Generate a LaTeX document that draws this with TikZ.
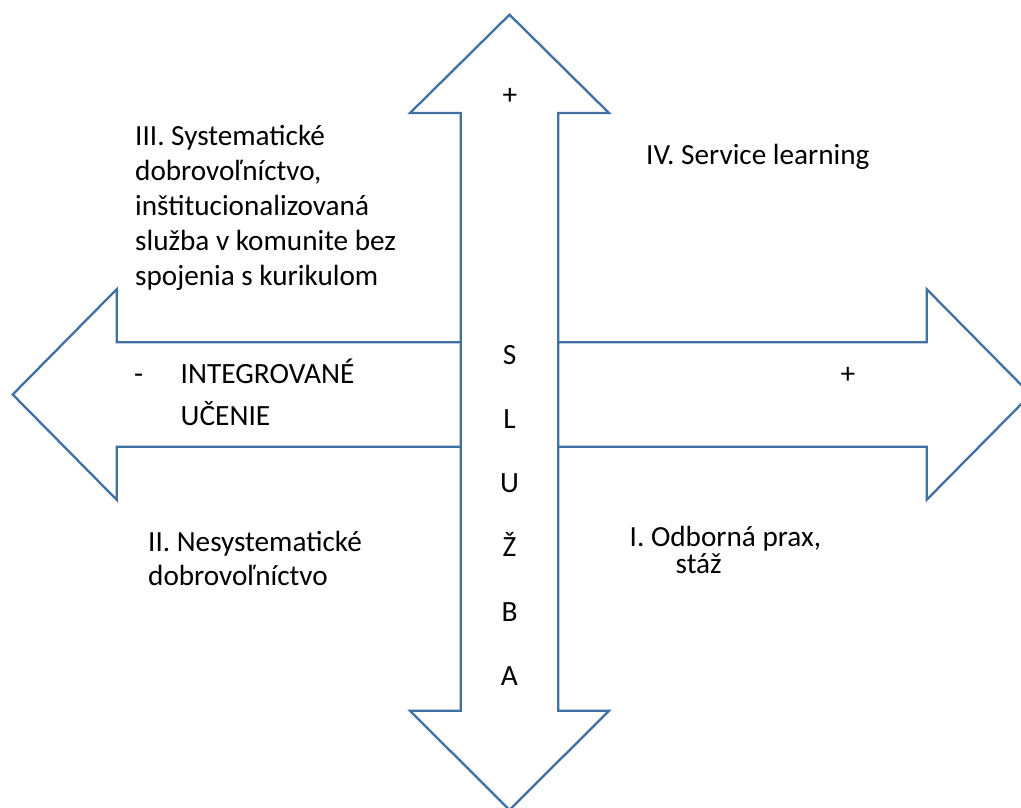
\documentclass[tikz,border=0pt]{standalone}
\usepackage{fontspec}
\setmainfont{Carlito}
\usepackage{xcolor}
\usepackage{tikz}
\definecolor{arrowcolor}{RGB}{65,113,164}

\begin{document}
\begin{tikzpicture}[
    x=1pt, y=-1pt,
    bigarrow/.style={draw=arrowcolor, line width=2.3pt, fill=white, line join=miter},
    quadtext/.style={anchor=base west, inner sep=0pt, align=left, font=\fontsize{29.2}{35}\selectfont},
    axtext/.style={inner sep=0pt, font=\fontsize{29.4}{42}\selectfont}
]
    \clip (0,0) rectangle (1021,807);
    \fill[white] (0,0) rectangle (1021,807);

    % Horizontal arrow (integrated learning)
    \draw[bigarrow] (12.7,394.5) -- (116.7,289.2) -- (116.7,342.3) -- (926.7,342.3) -- (926.7,289.2)
        -- (1030.7,394.5) -- (926.7,499.8) -- (926.7,446.7) -- (116.7,446.7) -- (116.7,499.8) -- cycle;

    % Vertical arrow (service)
    \draw[bigarrow] (509.5,14.7) -- (609,113) -- (558.2,113) -- (558.2,710.7) -- (609,710.7)
        -- (509.5,810) -- (410,710.7) -- (460.8,710.7) -- (460.8,113) -- (410,113) -- cycle;

    % Quadrants (base = last line)
    \node[quadtext] (quadIII) at (135,285.5) {III. Systematické\\dobrovoľníctvo,\\inštitucionalizovaná\\služba v komunite bez\\spojenia s kurikulom};
    \node[quadtext] (quadIV) at (646,164.3) {IV. Service learning};
    \node[quadtext, font=\fontsize{29.2}{34}\selectfont] (quadII) at (148,585) {II. Nesystematické\\dobrovoľníctvo};
    \node[quadtext, font=\fontsize{29.2}{27.3}\selectfont] (quadI) at (629.5,573.3) {I. Odborná prax,\\\hspace*{46pt}stáž};

    % Axis labels
    \node[axtext, anchor=base west] (minus) at (134,383) {-};
    \node[axtext, anchor=base west, align=left] (integ) at (180.5,425) {INTEGROVANÉ\\UČENIE};
    \node[axtext] (plustop) at (510,96.7) {+};
    \node[axtext] (plusright) at (848,375) {+};
    \foreach \letter [count=\i from 0] in {S,L,U,Ž,B,A}
        \node[axtext, anchor=base] (sluzba\i) at (509.5,364+64.3*\i) {\letter};
\end{tikzpicture}
\end{document}
